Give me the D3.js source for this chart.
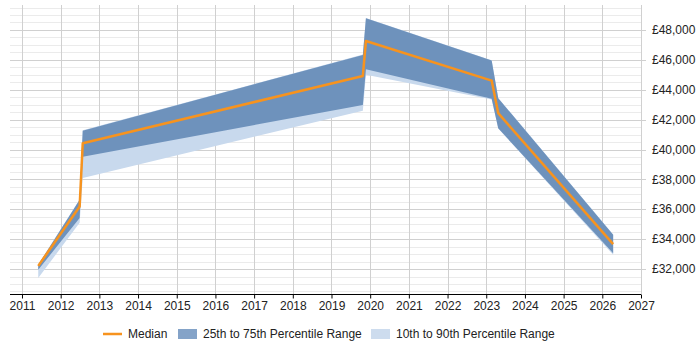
<!DOCTYPE html>
<html>
<head>
<meta charset="utf-8">
<script src="https://cdn.jsdelivr.net/npm/d3@7"></script>
<style>
  body { margin: 0; background: #fff; }
  svg { display: block; font-family: "Liberation Sans", Arial, sans-serif; }
  .tick-label { font-size: 12px; fill: #222; }
  .legend-text { font-size: 12px; fill: #222; }
</style>
</head>
<body>
<svg id="chart" width="700" height="350"></svg>
<script>
// time points (decimal years) and salary percentiles
const YEARS = [2011.42, 2012.49, 2012.57, 2019.81, 2019.89, 2023.14, 2023.31, 2026.28];
const P10 = [31400, 35100, 38100, 42600, 45000, 43350, 41400, 32950];
const P25 = [31950, 35420, 39520, 42980, 45370, 43390, 41420, 33060];
const MEDIAN = [32210, 36180, 40420, 44920, 47260, 44610, 42430, 33670];
const P75 = [32280, 36630, 41260, 46330, 48780, 45950, 43430, 34290];
const P90 = [32300, 36650, 41280, 46350, 48800, 45970, 43450, 34310];

const X_TICKS = d3.range(2011, 2028);
const Y_MAJOR = d3.range(32000, 48001, 2000);
const Y_MINOR = d3.range(30500, 49600, 500);

const margin = { left: 10, right: 59, top: 5, bottom: 56 };
const width = 700;
const height = 350;

const svg = d3.select("#chart");

const x = d3.scaleLinear().domain([2010.69, 2027]).range([margin.left, width - margin.right]);
const y = d3.scaleLinear().domain([30330, 49670]).range([height - margin.bottom, margin.top]);

const rows = YEARS.map((t, i) => ({
  t,
  p10: P10[i],
  p25: P25[i],
  med: MEDIAN[i],
  p75: P75[i],
  p90: P90[i],
}));

// grid
const grid = svg.append("g");
grid.selectAll(".minor")
  .data(Y_MINOR.filter((v) => v % 2000 !== 0))
  .join("line")
  .attr("x1", margin.left)
  .attr("x2", width - margin.right)
  .attr("y1", (d) => Math.round(y(d)) + 0.5)
  .attr("y2", (d) => Math.round(y(d)) + 0.5)
  .attr("stroke", "#ebebeb");

grid.selectAll(".major")
  .data(Y_MAJOR)
  .join("line")
  .attr("x1", margin.left)
  .attr("x2", width - margin.right + 5)
  .attr("y1", (d) => Math.round(y(d)) + 0.5)
  .attr("y2", (d) => Math.round(y(d)) + 0.5)
  .attr("stroke", "#d0d0d0");

grid.selectAll(".vgrid")
  .data(X_TICKS)
  .join("line")
  .attr("x1", (d) => Math.round(x(d)) + 0.5)
  .attr("x2", (d) => Math.round(x(d)) + 0.5)
  .attr("y1", margin.top)
  .attr("y2", height - margin.bottom)
  .attr("stroke", "#d0d0d0");

// bands
const area = (lo, hi) =>
  d3.area().x((d) => x(d.t)).y0((d) => y(d[lo])).y1((d) => y(d[hi]));

svg.append("path").datum(rows).attr("d", area("p10", "p90")).attr("fill", "#c8d9ed");
svg.append("path").datum(rows).attr("d", area("p25", "p75")).attr("fill", "#6e92bc");

svg.append("path")
  .datum(rows)
  .attr("d", d3.line().x((d) => x(d.t)).y((d) => y(d.med)))
  .attr("fill", "none")
  .attr("stroke", "#f7931e")
  .attr("stroke-width", 2.5)
  .attr("stroke-linejoin", "round");

// x axis
const xAxis = svg.append("g")
  .attr("transform", `translate(0,${height - margin.bottom + 0.5})`)
  .call(d3.axisBottom(x).tickValues(X_TICKS).tickFormat(d3.format("d")).tickSize(4).tickPadding(3));
xAxis.select(".domain").attr("stroke", "#000").attr("d", `M${margin.left},0H${width - margin.right}`);
xAxis.selectAll(".tick line").attr("stroke", "#000");
xAxis.selectAll("text").attr("class", "tick-label").attr("font-family", null).attr("font-size", null);

// y axis (right)
svg.append("line")
  .attr("x1", width - margin.right + 0.5)
  .attr("x2", width - margin.right + 0.5)
  .attr("y1", margin.top)
  .attr("y2", height - margin.bottom)
  .attr("stroke", "#d0d0d0");

svg.append("g")
  .selectAll("text")
  .data(Y_MAJOR)
  .join("text")
  .attr("class", "tick-label")
  .attr("x", width - margin.right + 11)
  .attr("y", (d) => y(d))
  .attr("dy", "0.35em")
  .text((d) => "£" + d3.format(",")(d));

// legend
const legend = svg.append("g").attr("transform", "translate(0,334)");
legend.append("line")
  .attr("x1", 103).attr("x2", 122).attr("y1", 0).attr("y2", 0)
  .attr("stroke", "#f7931e").attr("stroke-width", 2.5);
legend.append("text").attr("class", "legend-text").attr("x", 128).attr("y", 0).attr("dy", "0.35em").text("Median");
legend.append("rect").attr("x", 178).attr("y", -5).attr("width", 19).attr("height", 10).attr("fill", "#84a3c8");
legend.append("text").attr("class", "legend-text").attr("x", 203).attr("y", 0).attr("dy", "0.35em").text("25th to 75th Percentile Range");
legend.append("rect").attr("x", 371).attr("y", -5).attr("width", 19).attr("height", 10).attr("fill", "#cddcee");
legend.append("text").attr("class", "legend-text").attr("x", 396).attr("y", 0).attr("dy", "0.35em").text("10th to 90th Percentile Range");
</script>
</body>
</html>
